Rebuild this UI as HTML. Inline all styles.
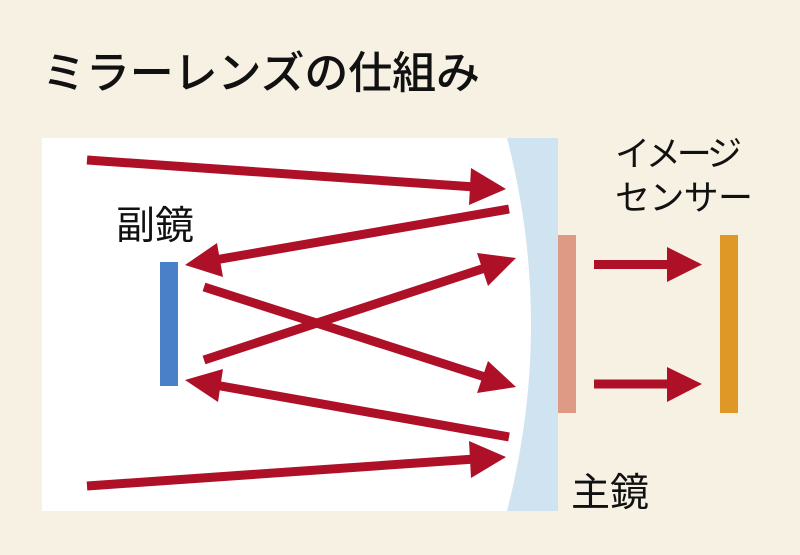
<!DOCTYPE html>
<html lang="ja">
<head>
<meta charset="utf-8">
<style>
html,body{margin:0;padding:0;background:#f6f1e2;}
svg{display:block;}
text{font-family:"Liberation Sans","Noto Sans CJK JP",sans-serif;fill:#111;}
</style>
</head>
<body>
<svg width="800" height="555" viewBox="0 0 800 555" xmlns="http://www.w3.org/2000/svg">
<rect width="800" height="555" fill="#f6f1e2"/>
<rect x="42" y="138" width="500" height="373" fill="#ffffff"/>
<path d="M507 138 Q555 324 507 511 L558 511 L558 138 Z" fill="#cfe4f0"/>
<rect x="558" y="235" width="18" height="178" fill="#de9a85"/>
<rect x="720" y="235" width="18" height="178" fill="#df9826"/>
<rect x="160" y="262" width="18" height="124" fill="#4a80c8"/>
<g stroke="#ae1028" stroke-width="9" fill="none">
<line x1="87" y1="160" x2="475" y2="187"/>
<line x1="509" y1="209" x2="215" y2="260"/>
<line x1="204" y1="287" x2="485" y2="377"/>
<line x1="204" y1="360" x2="485" y2="268"/>
<line x1="509" y1="437" x2="215" y2="385"/>
<line x1="87" y1="486" x2="475" y2="459"/>
<line x1="594" y1="264.5" x2="670" y2="264.5"/>
<line x1="594" y1="384" x2="670" y2="384"/>
</g>
<g fill="#ae1028">
<polygon points="506,189 471,168 469,205"/>
<polygon points="185,265 217,243 223,277"/>
<polygon points="516,387 488,361 477,393"/>
<polygon points="516,258 477,253 488,286"/>
<polygon points="185,380 223,369 218,402"/>
<polygon points="506,457 469,441 471,478"/>
<polygon points="702,264.5 667,247 667,282"/>
<polygon points="702,384 667,367 667,402"/>
</g>
<text x="42" y="88" font-size="44" font-weight="500" textLength="438">ミラーレンズの仕組み</text>
<text x="116" y="239" font-size="39">副鏡</text>
<text x="571" y="506" font-size="39">主鏡</text>
<text x="615" y="166" font-size="35" textLength="127">イメージ</text>
<text x="615" y="210" font-size="35" textLength="138">センサー</text>
</svg>
</body>
</html>
